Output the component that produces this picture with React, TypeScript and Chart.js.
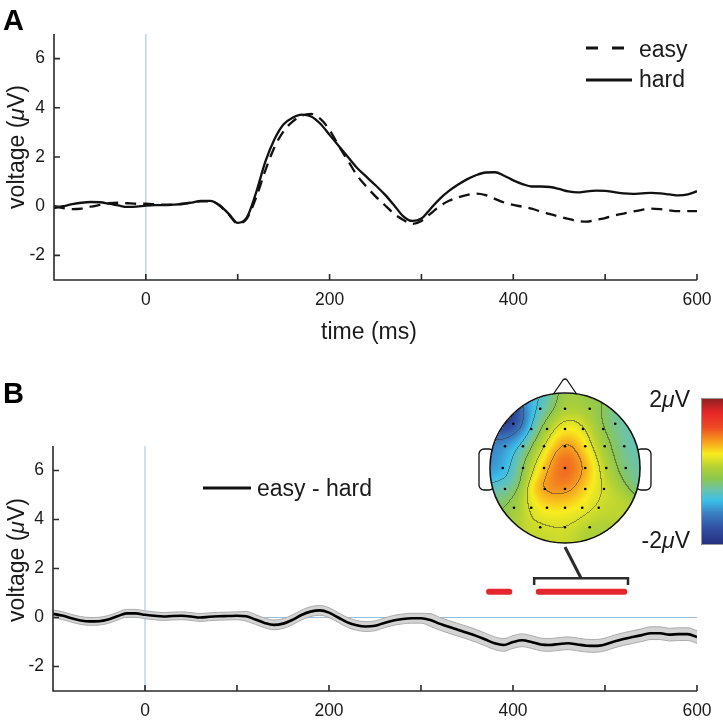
import React, { useEffect, useRef } from "react";
import { Chart, registerables } from "chart.js";
Chart.register(...registerables);

const FONT = '"Liberation Sans", Arial, Helvetica, sans-serif';
const TEXT = "#1a1a1a";
const AXIS = "#2a2a2a";
const REF_BLUE = "#9dbfdf";

// ---------- data ----------
const times = [-100, -90, -80, -70, -60, -50, -40, -30, -20, -10, 0, 10, 20, 30, 40, 50, 60, 70, 80, 90, 100, 110, 120, 130, 140, 150, 160, 170, 180, 190, 200, 210, 220, 230, 240, 250, 260, 270, 280, 290, 300, 310, 320, 330, 340, 350, 360, 370, 380, 390, 400, 410, 420, 430, 440, 450, 460, 470, 480, 490, 500, 510, 520, 530, 540, 550, 560, 570, 580, 590, 600];

const hard = [-0.08, 0.0, 0.08, 0.14, 0.17, 0.16, 0.1, 0.03, -0.03, -0.02, 0.02, 0.04, 0.04, 0.06, 0.09, 0.15, 0.22, 0.22, 0.05, -0.3, -0.68, -0.45, 0.55, 1.8, 2.72, 3.33, 3.6, 3.72, 3.65, 3.35, 2.9, 2.45, 2.0, 1.55, 1.2, 0.85, 0.48, 0.05, -0.4, -0.6, -0.5, -0.1, 0.3, 0.62, 0.88, 1.1, 1.27, 1.37, 1.38, 1.24, 1.05, 0.9, 0.8, 0.8, 0.78, 0.7, 0.6, 0.56, 0.6, 0.63, 0.62, 0.57, 0.52, 0.5, 0.52, 0.54, 0.52, 0.48, 0.44, 0.48, 0.61];

const easy = [0.0, -0.08, -0.12, -0.1, -0.02, 0.05, 0.12, 0.14, 0.12, 0.1, 0.1, 0.08, 0.06, 0.07, 0.1, 0.15, 0.2, 0.2, 0.03, -0.32, -0.7, -0.5, 0.35, 1.45, 2.4, 3.05, 3.45, 3.68, 3.75, 3.55, 3.1, 2.45, 1.85, 1.25, 0.8, 0.4, 0.05, -0.3, -0.55, -0.72, -0.6, -0.3, 0.0, 0.22, 0.36, 0.46, 0.51, 0.45, 0.3, 0.15, 0.05, -0.02, -0.1, -0.22, -0.32, -0.42, -0.52, -0.6, -0.63, -0.55, -0.48, -0.38, -0.3, -0.22, -0.15, -0.1, -0.12, -0.17, -0.2, -0.2, -0.2];

const diff = [0.15, 0.08, -0.03, -0.12, -0.16, -0.15, -0.08, 0.05, 0.17, 0.17, 0.11, 0.07, 0.04, 0.06, 0.07, 0.04, 0.0, 0.03, 0.05, 0.06, 0.07, 0.05, -0.08, -0.22, -0.3, -0.25, -0.1, 0.1, 0.24, 0.29, 0.2, 0.0, -0.2, -0.32, -0.37, -0.34, -0.22, -0.12, -0.06, -0.03, -0.03, -0.1, -0.25, -0.38, -0.5, -0.62, -0.75, -0.9, -1.05, -1.12, -1.0, -0.93, -1.0, -1.1, -1.12, -1.08, -1.05, -1.1, -1.15, -1.16, -1.1, -0.98, -0.88, -0.8, -0.72, -0.64, -0.64, -0.7, -0.68, -0.68, -0.8];

const diffSE = [0.16, 0.16, 0.16, 0.16, 0.16, 0.16, 0.16, 0.16, 0.16, 0.16, 0.16, 0.16, 0.16, 0.16, 0.16, 0.16, 0.16, 0.16, 0.16, 0.16, 0.16, 0.2, 0.2, 0.2, 0.2, 0.2, 0.2, 0.2, 0.2, 0.2, 0.2, 0.2, 0.2, 0.2, 0.2, 0.2, 0.2, 0.2, 0.2, 0.2, 0.2, 0.26, 0.26, 0.26, 0.26, 0.26, 0.26, 0.26, 0.26, 0.26, 0.26, 0.26, 0.26, 0.26, 0.26, 0.26, 0.26, 0.26, 0.26, 0.26, 0.26, 0.26, 0.26, 0.26, 0.26, 0.26, 0.26, 0.26, 0.26, 0.26, 0.26];

const xTickValues = [-100, 0, 100, 200, 300, 400, 500, 600];
const xLabelValues = [0, 200, 400, 600];
const yTickValues = [-2, 0, 2, 4, 6];

// significant time windows (ms) and their marker level (µV)
const sigStart = [374, 428];
const sigEnd = [396, 521];
const sigLevel = 1.05;
// window averaged for the scalp map
const topoWindow = [423, 525];
const bracketLevel = 1.6;
const bracketTickLevel = 1.33;

// scalp map electrodes (normalized head coords) and mean voltage (µV)
const elecX = [-0.33, 0, 0.33, -0.69, 0.67, -0.45, -0.24, 0, 0.24, 0.51, -0.8, -0.56, -0.28, 0, 0.27, 0.53, 0.79, -0.83, -0.56, -0.28, 0, 0.27, 0.55, 0.81, -0.8, -0.27, 0, 0.27, 0.52, -0.68, -0.45, -0.24, 0, 0.23, 0.45, -0.33, 0, 0.33];
const elecY = [-0.79, -0.79, -0.79, -0.59, -0.59, -0.52, -0.52, -0.52, -0.52, -0.52, -0.29, -0.29, -0.29, -0.29, -0.29, -0.29, -0.29, 0, 0, 0, 0, 0, 0, 0, 0.28, 0.28, 0.28, 0.28, 0.28, 0.53, 0.53, 0.53, 0.53, 0.53, 0.53, 0.79, 0.79, 0.79];
const elecV = [-0.8, 0.0, -0.15, -2.1, -0.6, -0.9, 0.25, 0.55, 0.4, -0.2, -1.1, -0.45, 0.5, 1.2, 0.55, -0.05, -0.6, -1.15, -0.1, 0.7, 1.3, 0.85, 0.1, -0.5, -0.45, 1.0, 1.05, 0.6, 0.2, -0.15, 0.4, 0.55, 0.45, 0.5, 0.15, 0.15, 0.25, -0.05];
const cbarMin = -2;
const cbarMax = 2;
const contourStep = 0.5;
const contourOffset = 0.3;

// colormap stops (position, color)
const cmapPos = [0, 0.12, 0.22, 0.3, 0.38, 0.45, 0.53, 0.62, 0.7, 0.8, 0.9, 1.0];
const cmapCol = ["#282e7f", "#3252a3", "#3a83c4", "#3bbfe9", "#6ec3a6", "#8cc74f", "#b5d233", "#f8ec1f", "#f7a21c", "#ee4b25", "#e8262a", "#8b1f23"];

// ---------- helpers ----------
function hexToRgb(h: string) {
  const n = parseInt(h.slice(1), 16);
  return [(n >> 16) & 255, (n >> 8) & 255, n & 255];
}
const cmapRgb = cmapCol.map(hexToRgb);
function cmap(t: number) {
  t = Math.max(0, Math.min(1, t));
  for (let i = 0; i < cmapPos.length - 1; i++) {
    if (t <= cmapPos[i + 1]) {
      const f = (t - cmapPos[i]) / (cmapPos[i + 1] - cmapPos[i]);
      const a = cmapRgb[i], b = cmapRgb[i + 1];
      return [a[0] + (b[0] - a[0]) * f, a[1] + (b[1] - a[1]) * f, a[2] + (b[2] - a[2]) * f];
    }
  }
  return cmapRgb[cmapRgb.length - 1];
}

function richText(ctx: CanvasRenderingContext2D, parts: [string, boolean][], x: number, y: number, size: number, align: string) {
  const widths = parts.map(([s, it]) => {
    ctx.font = `${it ? "italic " : ""}${size}px ${FONT}`;
    return ctx.measureText(s).width;
  });
  const total = widths.reduce((a, b) => a + b, 0);
  let cx = align === "center" ? x - total / 2 : align === "right" ? x - total : x;
  ctx.textAlign = "left";
  ctx.textBaseline = "alphabetic";
  parts.forEach(([s, it], i) => {
    ctx.font = `${it ? "italic " : ""}${size}px ${FONT}`;
    ctx.fillText(s, cx, y);
    cx += widths[i];
  });
}

function drawYTitle(ctx: CanvasRenderingContext2D, x: number, y: number) {
  ctx.save();
  ctx.translate(x, y);
  ctx.rotate(-Math.PI / 2);
  ctx.fillStyle = TEXT;
  richText(ctx, [["voltage (", false], ["\u03bc", true], ["V)", false]], 0, 0, 23, "center");
  ctx.restore();
}

function drawAxes(chart: any) {
  const { ctx, chartArea: ca, scales } = chart;
  ctx.save();
  ctx.strokeStyle = AXIS;
  ctx.lineWidth = 1.6;
  ctx.beginPath();
  ctx.moveTo(ca.left, ca.top);
  ctx.lineTo(ca.left, ca.bottom);
  ctx.lineTo(ca.right, ca.bottom);
  for (const v of xTickValues) {
    const px = scales.x.getPixelForValue(v);
    ctx.moveTo(px, ca.bottom);
    ctx.lineTo(px, ca.bottom - 6);
  }
  for (const v of yTickValues) {
    const py = scales.y.getPixelForValue(v);
    ctx.moveTo(ca.left, py);
    ctx.lineTo(ca.left + 6, py);
  }
  ctx.stroke();
  ctx.restore();
}

function panelLabel(ctx: CanvasRenderingContext2D, s: string, x: number, y: number) {
  ctx.save();
  ctx.fillStyle = "#000";
  ctx.font = `bold 29px ${FONT}`;
  ctx.textAlign = "left";
  ctx.textBaseline = "alphabetic";
  ctx.fillText(s, x, y);
  ctx.restore();
}

function drawTopo(chart: any) {
  const { ctx, scales } = chart;
  const R = 75, cx = 565, cy = 108;
  ctx.save();
  // ears
  ctx.lineWidth = 1.3;
  ctx.strokeStyle = "#111";
  ctx.fillStyle = "#fff";
  for (const side of [-1, 1]) {
    const x0 = side < 0 ? cx - R - 11 : cx + R - 4;
    ctx.beginPath();
    (ctx as any).roundRect(x0, cy - 19, 15, 41, 5);
    ctx.fill();
    ctx.stroke();
  }
  // nose
  ctx.beginPath();
  ctx.lineJoin = "round";
  ctx.moveTo(cx - 15, cy - R + 6);
  ctx.lineTo(cx - 2, cy - R - 13);
  ctx.quadraticCurveTo(cx, cy - R - 15, cx + 2, cy - R - 13);
  ctx.lineTo(cx + 15, cy - R + 6);
  ctx.closePath();
  ctx.fill();
  ctx.stroke();

  // interpolated map (gaussian kernel smoothing of electrode values)
  const size = 2 * R + 1;
  const off = document.createElement("canvas");
  off.width = size;
  off.height = size;
  const octx = off.getContext("2d")!;
  const img = octx.createImageData(size, size);
  const vals = new Float32Array(size * size).fill(NaN);
  const s2 = 2 * 0.17 * 0.17;
  for (let j = 0; j < size; j++) {
    for (let i = 0; i < size; i++) {
      const dx = (i - R) / R, dy = (j - R) / R;
      if (dx * dx + dy * dy > 1.0) continue;
      let ws = 0, vs = 0;
      for (let k = 0; k < elecX.length; k++) {
        const d2 = (dx - elecX[k]) ** 2 + (dy - elecY[k]) ** 2;
        const w = Math.exp(-d2 / s2) + 1e-12;
        ws += w;
        vs += w * elecV[k];
      }
      vals[j * size + i] = vs / ws;
    }
  }
  const lvl = (v: number) => Math.floor((v - contourOffset) / contourStep);
  for (let j = 0; j < size; j++) {
    for (let i = 0; i < size; i++) {
      const v = vals[j * size + i];
      if (isNaN(v)) continue;
      let c = cmap((v - cbarMin) / (cbarMax - cbarMin));
      const L = lvl(v);
      let edge = false;
      if (i + 1 < size && !isNaN(vals[j * size + i + 1]) && lvl(vals[j * size + i + 1]) !== L) edge = true;
      if (j + 1 < size && !isNaN(vals[(j + 1) * size + i]) && lvl(vals[(j + 1) * size + i]) !== L) edge = true;
      if (edge) c = [c[0] * 0.5 + 50 * 0.5, c[1] * 0.5 + 50 * 0.5, c[2] * 0.5 + 50 * 0.5];
      const p = (j * size + i) * 4;
      img.data[p] = c[0];
      img.data[p + 1] = c[1];
      img.data[p + 2] = c[2];
      img.data[p + 3] = 255;
    }
  }
  octx.putImageData(img, 0, 0);
  ctx.drawImage(off, cx - R, cy - R);
  // head outline
  ctx.beginPath();
  ctx.arc(cx, cy, R, 0, Math.PI * 2);
  ctx.lineWidth = 1.6;
  ctx.strokeStyle = "#111";
  ctx.stroke();
  // electrodes
  ctx.fillStyle = "#000";
  for (let k = 0; k < elecX.length; k++) {
    ctx.beginPath();
    ctx.arc(cx + elecX[k] * R, cy + elecY[k] * R, 1.3, 0, Math.PI * 2);
    ctx.fill();
  }

  // colorbar
  const cbX = 701, cbTop = 38, cbBot = 185;
  for (let y = cbTop; y < cbBot; y++) {
    const t = 1 - (y - cbTop + 0.5) / (cbBot - cbTop);
    const c = cmap(t);
    ctx.fillStyle = `rgb(${c[0] | 0},${c[1] | 0},${c[2] | 0})`;
    ctx.fillRect(cbX, y, 30, 1);
  }
  ctx.strokeStyle = "#999";
  ctx.lineWidth = 1;
  ctx.strokeRect(cbX + 0.5, cbTop + 0.5, 40, cbBot - cbTop - 1);
  ctx.fillStyle = TEXT;
  richText(ctx, [[String(cbarMax), false], ["\u03bc", true], ["V", false]], 690, 47, 23, "right");
  richText(ctx, [[String(cbarMin), false], ["\u03bc", true], ["V", false]], 690, 188, 23, "right");

  // stem + bracket
  const bx0 = scales.x.getPixelForValue(topoWindow[0]);
  const bx1 = scales.x.getPixelForValue(topoWindow[1]);
  const by = scales.y.getPixelForValue(bracketLevel);
  const byt = scales.y.getPixelForValue(bracketTickLevel);
  const bmid = scales.x.getPixelForValue((topoWindow[0] + topoWindow[1]) / 2);
  ctx.strokeStyle = "#2b2b2b";
  ctx.lineCap = "butt";
  ctx.lineWidth = 3;
  ctx.beginPath();
  ctx.moveTo(cx, cy + R + 4);
  ctx.lineTo(bmid, by);
  ctx.stroke();
  ctx.lineWidth = 2.5;
  ctx.lineJoin = "miter";
  ctx.beginPath();
  ctx.moveTo(bx0, byt);
  ctx.lineTo(bx0, by);
  ctx.lineTo(bx1, by);
  ctx.lineTo(bx1, byt);
  ctx.stroke();

  // significance bars
  ctx.strokeStyle = "#e5262c";
  ctx.lineWidth = 6;
  ctx.lineCap = "round";
  const sy = scales.y.getPixelForValue(sigLevel);
  for (let k = 0; k < sigStart.length; k++) {
    ctx.beginPath();
    ctx.moveTo(scales.x.getPixelForValue(sigStart[k]), sy);
    ctx.lineTo(scales.x.getPixelForValue(sigEnd[k]), sy);
    ctx.stroke();
  }
  ctx.restore();
}

function scalesFor(yWidth: number, xHeight: number) {
  return {
    x: {
      type: "linear",
      min: -100,
      max: 600,
      grid: { display: false, drawTicks: false },
      border: { display: false },
      afterBuildTicks: (s: any) => { s.ticks = xTickValues.map((v) => ({ value: v })); },
      afterFit: (s: any) => { s.height = xHeight; },
      ticks: {
        autoSkip: false,
        maxRotation: 0,
        padding: 10,
        color: TEXT,
        font: { family: FONT, size: 17.5 },
        callback: (v: any) => (xLabelValues.includes(v) ? String(v) : ""),
      },
    },
    y: {
      type: "linear",
      min: -3,
      max: 7,
      grid: { display: false, drawTicks: false },
      border: { display: false },
      afterBuildTicks: (s: any) => { s.ticks = yTickValues.map((v) => ({ value: v })); },
      afterFit: (s: any) => { s.width = yWidth; },
      ticks: {
        padding: 9,
        color: TEXT,
        font: { family: FONT, size: 17.5 },
        callback: (v: any) => String(v),
      },
    },
  };
}

const pts = (ys: number[]) => times.map((t, i) => ({ x: t, y: ys[i] }));

export default function App() {
  const refA = useRef<HTMLCanvasElement>(null);
  const refB = useRef<HTMLCanvasElement>(null);

  useEffect(() => {
    document.body.style.margin = "0";
    const common = {
      responsive: false,
      animation: false,
      devicePixelRatio: 1,
      events: [],
      plugins: { legend: { display: false }, tooltip: { enabled: false } },
    };

    const pluginA = {
      id: "panelA",
      beforeDatasetsDraw(chart: any) {
        const { ctx, chartArea: ca, scales } = chart;
        const x0 = scales.x.getPixelForValue(0);
        ctx.save();
        ctx.strokeStyle = REF_BLUE;
        ctx.lineWidth = 1;
        ctx.beginPath();
        ctx.moveTo(x0, ca.top);
        ctx.lineTo(x0, ca.bottom);
        ctx.stroke();
        ctx.restore();
      },
      afterDraw(chart: any) {
        const { ctx } = chart;
        drawAxes(chart);
        drawYTitle(ctx, 24, 147);
        ctx.save();
        ctx.fillStyle = TEXT;
        richText(ctx, [["time (ms)", false]], 369, 339, 23, "center");
        // legend
        ctx.strokeStyle = "#111";
        ctx.lineWidth = 3;
        ctx.setLineDash([12, 14]);
        ctx.beginPath();
        ctx.moveTo(586, 48);
        ctx.lineTo(624, 48);
        ctx.stroke();
        ctx.setLineDash([]);
        ctx.beginPath();
        ctx.moveTo(586, 80);
        ctx.lineTo(632, 80);
        ctx.stroke();
        richText(ctx, [["easy", false]], 639, 57, 23, "left");
        richText(ctx, [["hard", false]], 639, 87, 23, "left");
        ctx.restore();
        panelLabel(ctx, "A", 3, 30);
      },
    };

    const pluginB = {
      id: "panelB",
      beforeDatasetsDraw(chart: any) {
        const { ctx, chartArea: ca, scales } = chart;
        const x0 = scales.x.getPixelForValue(0);
        const y0 = scales.y.getPixelForValue(0);
        ctx.save();
        ctx.strokeStyle = REF_BLUE;
        ctx.lineWidth = 1;
        ctx.beginPath();
        ctx.moveTo(x0, ca.top);
        ctx.lineTo(x0, ca.bottom);
        ctx.moveTo(ca.left, y0);
        ctx.lineTo(ca.right, y0);
        ctx.stroke();
        ctx.restore();
      },
      afterDraw(chart: any) {
        const { ctx } = chart;
        drawAxes(chart);
        drawYTitle(ctx, 24, 200);
        ctx.save();
        ctx.strokeStyle = "#111";
        ctx.lineWidth = 3;
        ctx.beginPath();
        ctx.moveTo(203, 128);
        ctx.lineTo(251, 128);
        ctx.stroke();
        ctx.fillStyle = TEXT;
        richText(ctx, [["easy - hard", false]], 257, 136, 23, "left");
        ctx.restore();
        panelLabel(ctx, "B", 3, 43);
        drawTopo(chart);
      },
    };

    const chartA = new Chart(refA.current!, {
      type: "line",
      data: {
        datasets: [
          { label: "hard", data: pts(hard), borderColor: "#111", borderWidth: 2.3, pointRadius: 0, cubicInterpolationMode: "monotone", fill: false },
          { label: "easy", data: pts(easy), borderColor: "#111", borderWidth: 2.3, borderDash: [11, 7], pointRadius: 0, cubicInterpolationMode: "monotone", fill: false },
        ],
      },
      options: { ...common, layout: { padding: { top: 34, right: 26, left: 0, bottom: 0 } }, scales: scalesFor(54, 80) } as any,
      plugins: [pluginA],
    } as any);

    const upper = diff.map((v, i) => v + diffSE[i]);
    const lower = diff.map((v, i) => v - diffSE[i]);
    const chartB = new Chart(refB.current!, {
      type: "line",
      data: {
        datasets: [
          { label: "easy - hard", data: pts(diff), borderColor: "#000", borderWidth: 2.6, pointRadius: 0, cubicInterpolationMode: "monotone", fill: false },
          { label: "upper", data: pts(upper), borderColor: "#ababab", borderWidth: 1, pointRadius: 0, cubicInterpolationMode: "monotone", fill: false },
          { label: "lower", data: pts(lower), borderColor: "#ababab", borderWidth: 1, pointRadius: 0, cubicInterpolationMode: "monotone", fill: "-1", backgroundColor: "#d3d3d3" },
        ],
      },
      options: { ...common, layout: { padding: { top: 86, right: 26, left: 0, bottom: 0 } }, scales: scalesFor(53, 32) } as any,
      plugins: [pluginB],
    } as any);

    return () => {
      chartA.destroy();
      chartB.destroy();
    };
  }, []);

  return (
    <div style={{ position: "fixed", left: 0, top: 0, width: 723, height: 723, background: "#fff" }}>
      <canvas ref={refA} width={723} height={360} style={{ position: "absolute", left: 0, top: 0 }} />
      <canvas ref={refB} width={723} height={363} style={{ position: "absolute", left: 0, top: 360 }} />
    </div>
  );
}
